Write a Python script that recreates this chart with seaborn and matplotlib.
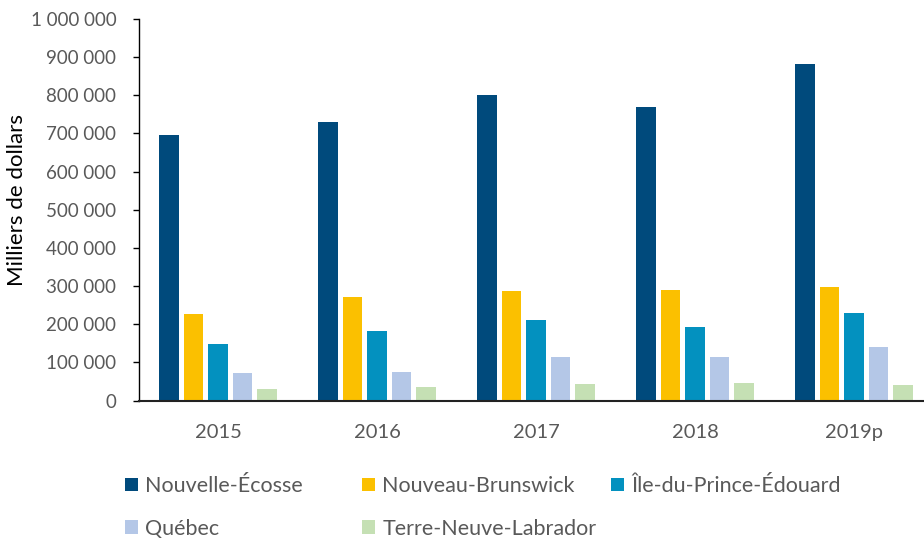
import matplotlib
matplotlib.use("Agg")
import matplotlib.pyplot as plt
from matplotlib.ticker import FuncFormatter, MultipleLocator
import seaborn as sns
import pandas as pd

years = ["2015", "2016", "2017", "2018", "2019p"]
provinces = ["Nouvelle-Écosse", "Nouveau-Brunswick", "Île-du-Prince-Édouard",
             "Québec", "Terre-Neuve-Labrador"]
nouvelle_ecosse = [695000, 729000, 801000, 770000, 881000]
nouveau_brunswick = [226000, 270000, 286000, 289000, 298000]
ile_pe = [148000, 181000, 210000, 192000, 229000]
quebec = [72000, 75000, 115000, 114000, 141000]
terre_neuve = [31000, 35000, 42000, 45000, 40000]
colors = ["#004A7C", "#FBC000", "#0391BF", "#B4C7E7", "#C5E0B4"]

series = [nouvelle_ecosse, nouveau_brunswick, ile_pe, quebec, terre_neuve]
rows = []
for prov, vals in zip(provinces, series):
    for y, v in zip(years, vals):
        rows.append({"Année": y, "Province": prov, "Valeur": v})
df = pd.DataFrame(rows)

sns.set_style("white")
plt.rcParams["font.family"] = ["Lato", "DejaVu Sans"]

W, H = 924, 540
fig = plt.figure(figsize=(W / 100, H / 100), dpi=100)
left, right, top, bottom = 138.5, 933.5, 19, 400.5
ax = fig.add_axes([left / W, (H - bottom) / H, (right - left) / W, (bottom - top) / H])

sns.barplot(data=df, x="Année", y="Valeur", hue="Province", order=years,
            hue_order=provinces, palette=colors, saturation=1, width=0.77, gap=0.2,
            linewidth=0, ax=ax, legend=True)

ax.set_ylim(0, 1000000)
ax.set_xlim(-0.5, 4.5)
ax.yaxis.set_major_locator(MultipleLocator(100000))
ax.yaxis.set_major_formatter(FuncFormatter(lambda v, p: f"{int(v):,}".replace(",", " ")))

grey = "#595959"
ax.tick_params(axis="y", direction="out", length=4, width=1, color="black",
               labelsize=13.5, labelcolor=grey, left=True, pad=12)
ax.tick_params(axis="x", length=0, labelsize=14.5, labelcolor=grey, pad=17)

for s in ["top", "right"]:
    ax.spines[s].set_visible(False)
ax.spines["left"].set_color("black")
ax.spines["left"].set_linewidth(1.0)
ax.spines["bottom"].set_color("#222222")
ax.spines["bottom"].set_linewidth(1.5)

ax.set_xlabel("")
ax.set_ylabel("Milliers de dollars", fontsize=16, color="black")
ax.yaxis.set_label_coords((27 - left) / (right - left), (bottom - 200) / (bottom - top))

handles, labels = ax.get_legend_handles_labels()
ax.get_legend().remove()

# three legend columns, placed like the reference (row-major order)
cols = [[0, 3], [1, 4], [2]]
col_x = [125, 362, 611]
for cidx, xpix in zip(cols, col_x):
    leg = fig.legend([handles[i] for i in cidx], [labels[i] for i in cidx],
                     loc="upper left", bbox_to_anchor=(xpix / W, (H - 476) / H),
                     frameon=False, fontsize=15.5, handlelength=0.6,
                     handleheight=0.6, handletextpad=0.35, labelspacing=1.05,
                     borderpad=0, borderaxespad=0)
    for t in leg.get_texts():
        t.set_color(grey)

fig.savefig("out.png", dpi=100)
